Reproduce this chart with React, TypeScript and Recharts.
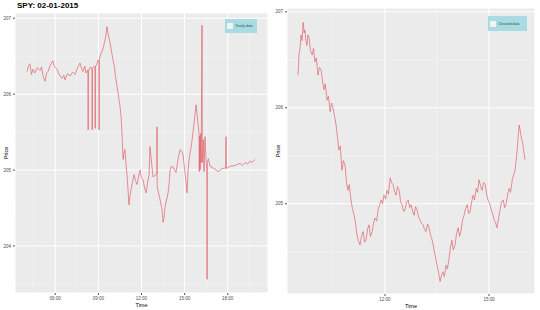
import React from 'react';
import { LineChart, Line, XAxis, YAxis, CartesianGrid } from 'recharts';

// hours of day (decimal) and price
const rawTime = [
  4.04, 4.15, 4.24, 4.35, 4.45, 4.59, 4.75, 4.94, 5.05, 5.15, 5.29, 5.4, 5.5, 5.65, 5.84, 5.95,
  6.12, 6.3, 6.47, 6.6, 6.68, 6.85, 7.03, 7.2, 7.38, 7.55, 7.72, 7.85, 7.93, 8.05, 8.14, 8.28,
  8.29, 8.3, 8.45, 8.56, 8.57, 8.58, 8.7, 8.77, 8.78, 8.79, 8.9, 8.98, 9.04, 9.05, 9.06, 9.15,
  9.25, 9.35, 9.46, 9.53, 9.6, 9.67, 9.74, 9.81, 9.9, 10.02, 10.1, 10.2, 10.3, 10.4, 10.51,
  10.58, 10.65, 10.72, 10.78, 10.85, 10.92, 10.99, 11.06, 11.13, 11.2, 11.27, 11.38, 11.48,
  11.58, 11.69, 11.8, 11.9, 12.0, 12.11, 12.22, 12.32, 12.43, 12.53, 12.59, 12.8, 13.07, 13.08,
  13.09, 13.29, 13.43, 13.5, 13.57, 13.64, 13.85, 13.92, 13.99, 14.08, 14.2, 14.3, 14.4, 14.55,
  14.68, 14.8, 14.89, 15.03, 15.17, 15.24, 15.31, 15.45, 15.52, 15.66, 15.8, 15.93, 16.0, 16.02,
  16.05, 16.08, 16.12, 16.15, 16.21, 16.23, 16.3, 16.35, 16.42, 16.5, 16.55, 16.56, 16.58, 16.65,
  16.77, 17.05, 17.33, 17.61, 17.86, 17.88, 17.9, 18.16, 18.51, 18.86, 19.0, 19.21, 19.4, 19.55,
  19.7, 19.9,
];
const rawPrice = [
  206.3, 206.38, 206.4, 206.26, 206.33, 206.28, 206.35, 206.31, 206.36, 206.24, 206.17, 206.28,
  206.3, 206.38, 206.44, 206.36, 206.33, 206.25, 206.21, 206.25, 206.19, 206.27, 206.24, 206.29,
  206.26, 206.35, 206.41, 206.33, 206.3, 206.37, 206.28, 206.32, 205.53, 206.3, 206.36, 206.33,
  205.53, 206.34, 206.37, 206.35, 205.55, 206.36, 206.4, 206.45, 206.43, 205.53, 206.45, 206.52,
  206.56, 206.62, 206.71, 206.78, 206.89, 206.8, 206.74, 206.68, 206.58, 206.45, 206.38, 206.22,
  206.1, 205.98, 205.83, 205.7, 205.45, 205.14, 205.22, 205.27, 205.08, 204.94, 204.75, 204.54,
  204.66, 204.74, 204.85, 204.94, 204.86, 204.81, 204.92, 205.0, 204.9, 204.87, 204.76, 204.7,
  204.84, 204.94, 205.31, 204.91, 204.95, 205.57, 204.78, 204.61, 204.48, 204.31, 204.38, 204.52,
  204.7, 204.82, 205.0, 205.05, 205.04, 205.0, 204.97, 205.15, 205.27, 205.25, 205.2, 204.96,
  204.7, 205.0, 205.14, 205.3, 205.4, 205.62, 205.86, 205.62, 205.49, 204.98, 205.45, 205.0,
  205.48, 205.1, 206.91, 205.1, 205.4, 204.98, 205.44, 205.1, 205.0, 203.56, 205.1, 205.15, 205.05,
  205.02, 204.98, 205.02, 205.03, 205.44, 205.02, 205.05, 205.06, 205.09, 205.06, 205.1, 205.08,
  205.12, 205.1, 205.14,
];

const cleanTime = [
  9.49, 9.51, 9.52, 9.55, 9.58, 9.61, 9.64, 9.67, 9.69, 9.72, 9.75, 9.78, 9.81, 9.85, 9.9, 9.94,
  9.98, 10.02, 10.07, 10.11, 10.16, 10.2, 10.24, 10.28, 10.33, 10.37, 10.42, 10.46, 10.5, 10.55,
  10.59, 10.63, 10.67, 10.71, 10.76, 10.8, 10.85, 10.89, 10.93, 10.97, 11.02, 11.06, 11.11, 11.15,
  11.19, 11.23, 11.28, 11.32, 11.37, 11.41, 11.45, 11.5, 11.54, 11.58, 11.63, 11.67, 11.71, 11.76,
  11.8, 11.84, 11.89, 11.93, 11.97, 12.02, 12.06, 12.1, 12.15, 12.19, 12.23, 12.28, 12.32, 12.36,
  12.41, 12.45, 12.49, 12.54, 12.58, 12.62, 12.67, 12.71, 12.75, 12.8, 12.84, 12.88, 12.92, 12.97,
  13.01, 13.05, 13.1, 13.14, 13.18, 13.23, 13.27, 13.31, 13.36, 13.4, 13.44, 13.48, 13.53, 13.56,
  13.59, 13.63, 13.67, 13.71, 13.76, 13.8, 13.85, 13.89, 13.93, 13.97, 14.02, 14.06, 14.11, 14.15,
  14.19, 14.23, 14.28, 14.32, 14.37, 14.41, 14.45, 14.5, 14.54, 14.58, 14.63, 14.67, 14.71, 14.76,
  14.8, 14.84, 14.89, 14.93, 14.97, 15.02, 15.06, 15.1, 15.15, 15.19, 15.23, 15.28, 15.32, 15.36,
  15.41, 15.45, 15.49, 15.54, 15.58, 15.62, 15.67, 15.71, 15.75, 15.78, 15.81, 15.84, 15.87, 15.9,
  15.92, 15.95, 15.98, 16.01, 16.04,
];
const cleanPrice = [
  206.34, 206.45, 206.55, 206.62, 206.76, 206.7, 206.89, 206.78, 206.81, 206.7, 206.65, 206.76,
  206.73, 206.6, 206.55, 206.62, 206.48, 206.52, 206.34, 206.42, 206.39, 206.28, 206.19, 206.25,
  206.08, 206.12, 205.96, 206.05, 206.0, 205.9, 205.82, 205.7, 205.56, 205.6, 205.35, 205.45,
  205.4, 205.22, 205.14, 205.2, 205.04, 204.95, 204.88, 204.8, 204.68, 204.62, 204.57, 204.66,
  204.71, 204.6, 204.62, 204.74, 204.78, 204.66, 204.71, 204.8, 204.85, 204.82, 204.94, 204.98,
  205.04, 205.0, 205.09, 205.05, 205.14, 205.1, 205.27, 205.22, 205.2, 205.12, 205.09, 205.18,
  205.14, 205.02, 204.99, 204.92, 204.94, 205.02, 205.04, 204.96, 204.99, 204.92, 204.88, 204.97,
  204.94, 204.86, 204.83, 204.8, 204.78, 204.73, 204.71, 204.79, 204.75, 204.68, 204.62, 204.55,
  204.47, 204.4, 204.31, 204.25, 204.19, 204.26, 204.29, 204.24, 204.36, 204.32, 204.44, 204.55,
  204.62, 204.52, 204.57, 204.68, 204.75, 204.66, 204.71, 204.82, 204.88, 204.95, 204.99, 204.9,
  204.91, 205.02, 205.09, 205.04, 205.16, 205.12, 205.25, 205.18, 205.14, 205.22, 205.2, 205.1,
  205.04, 205.0, 204.94, 204.9, 204.83, 204.8, 204.75, 204.86, 204.94, 205.02, 205.04, 204.96,
  204.99, 205.1, 205.16, 205.12, 205.25, 205.3, 205.35, 205.45, 205.56, 205.7, 205.82, 205.76,
  205.71, 205.66, 205.61, 205.52, 205.46,
];

const rawTicksX = [6, 9, 12, 15, 18];
const rawTicksY = [204, 205, 206, 207];
const cleanTicksX = [12, 15];
const cleanTicksY = [205, 206, 207];

const rawData = rawTime.map((t, i) => ({ t, price: rawPrice[i] }));
const cleanData = cleanTime.map((t, i) => ({ t, price: cleanPrice[i] }));

const fmtTime = (h: number) => String(Math.floor(h)).padStart(2, '0') + ':00';
const font = '"Liberation Sans", Arial, sans-serif';
const tickStyle = { fill: '#4d4d4d', fontSize: 4.5, fontFamily: font };
const lineColor = '#e0626b';

function Panel({ data, width, height, margin, xDomain, yDomain, xTicks, yTicks, xMinor, yMinor, legend, legendPos }: any) {
  return (
    <div style={{ position: 'relative', width, height }}>
      <LineChart width={width} height={height} data={data} margin={margin}>
        <CartesianGrid fill="#ebebeb" stroke="#f7f7f7" strokeWidth={0.5} horizontalValues={yMinor} verticalValues={xMinor} />
        <CartesianGrid stroke="#ffffff" strokeWidth={1} fillOpacity={0} />
        <XAxis
          dataKey="t"
          type="number"
          domain={xDomain}
          ticks={xTicks}
          tickFormatter={fmtTime}
          axisLine={false}
          tickSize={2}
          tickLine={{ stroke: '#555' }}
          tick={tickStyle}
          height={16}
          label={{ value: 'Time', position: 'insideBottom', offset: 2, style: { fontSize: 5.5, fill: '#000', fontFamily: font } }}
        />
        <YAxis
          type="number"
          domain={yDomain}
          ticks={yTicks}
          axisLine={false}
          tickSize={2}
          tickLine={{ stroke: '#555' }}
          tick={tickStyle}
          width={12}
          allowDataOverflow
          label={{ value: 'Price', angle: -90, position: 'insideLeft', offset: 3, style: { fontSize: 5.5, fill: '#000', fontFamily: font, textAnchor: 'middle' } }}
        />
        <Line type="linear" dataKey="price" stroke={lineColor} strokeWidth={0.7} dot={false} isAnimationActive={false} />
      </LineChart>
      <div
        style={{
          position: 'absolute', ...legendPos, background: '#a9dbe3', display: 'flex', alignItems: 'center',
          padding: '0 2px', boxSizing: 'border-box', fontFamily: font, fontSize: 3.6, color: '#2f4f55',
          whiteSpace: 'nowrap',
        }}
      >
        <span style={{ width: 6, height: 6, background: '#f2f2f2', marginRight: 2, display: 'inline-block', flexShrink: 0 }} />
        {legend}
      </div>
    </div>
  );
}

export default function App() {
  return (
    <div style={{ position: 'absolute', left: 0, top: 0, width: 540, height: 310, background: '#fff', overflow: 'hidden' }}>
      <div style={{ position: 'absolute', left: 17, top: 1, fontFamily: font, fontWeight: 'bold', fontSize: 8, color: '#000' }}>
        SPY: 02-01-2015
      </div>
      <div style={{ position: 'absolute', left: 0, top: 0 }}>
        <Panel
          data={rawData}
          width={270}
          height={310}
          margin={{ top: 13, right: 2, bottom: 1, left: 3 }}
          xDomain={[3.2, 20.8]}
          yDomain={[203.38, 207.07]}
          xTicks={rawTicksX}
          yTicks={rawTicksY}
          xMinor={[4.5, 7.5, 10.5, 13.5, 16.5, 19.5]}
          yMinor={[203.5, 204.5, 205.5, 206.5]}
          legend="Yearly data"
          legendPos={{ left: 225, top: 19, width: 32, height: 14 }}
        />
      </div>
      <div style={{ position: 'absolute', left: 270, top: 0 }}>
        <Panel
          data={cleanData}
          width={270}
          height={310}
          margin={{ top: 8, right: 5, bottom: 0, left: 5 }}
          xDomain={[9.175, 16.325]}
          yDomain={[204.06, 207.04]}
          xTicks={cleanTicksX}
          yTicks={cleanTicksY}
          xMinor={[10.5, 13.5]}
          yMinor={[204.5, 205.5, 206.5]}
          legend="Cleaned data"
          legendPos={{ left: 218, top: 16, width: 39, height: 15 }}
        />
      </div>
    </div>
  );
}
